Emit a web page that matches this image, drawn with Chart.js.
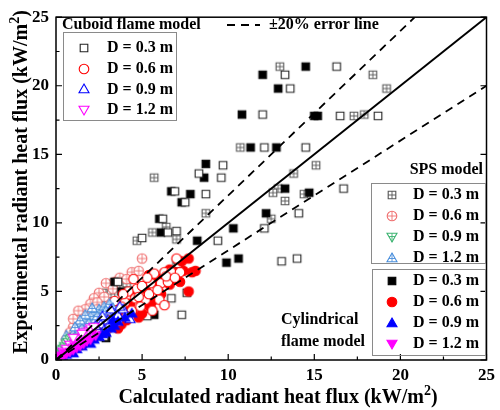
<!DOCTYPE html>
<html>
<head>
<meta charset="utf-8">
<script src="https://cdn.jsdelivr.net/npm/chart.js@4.4.0/dist/chart.umd.min.js"></script>
<style>
  html, body { margin: 0; padding: 0; background: #fff; }
  #wrap { width: 500px; height: 410px; }
</style>
</head>
<body>
<div id="wrap"><canvas id="fluxChart" width="500" height="410"></canvas></div>
<script>
// ===== Data (x = calculated, y = experimental, kW/m2) =====
const tickValues = [0, 5, 10, 15, 20, 25];
const errorFactors = [1, 1.2, 0.8];   // y = x and the ±20% lines

// Cuboid flame model (open markers)
const cuboid03 = [[16.3,21.4],[13.3,20.8],[13.6,19.8],[12.0,17.9],[16.5,17.8],[18.7,17.8],[12.1,15.5],[14.5,15.5],[9.7,14.2],[8.3,13.6],[9.6,13.3],[6.9,12.3],[8.7,12.1],[7.5,11.5],[6.2,10.3],[6.5,9.3],[7.0,9.4],[5.0,8.9],[9.4,8.7],[16.7,12.5],[14.1,10.7],[12.1,9.6],[13.1,7.2],[14.0,7.4],[7.1,7.0],[7.3,3.3],[5.3,3.2],[6.7,4.5],[7.6,4.9],[2.8,1.7],[3.6,5.7]];
const cuboid06 = [[7.0,7.4],[6.3,6.4],[6.7,6.4],[7.2,6.4],[5.7,6.3],[5.5,5.6],[6.1,5.6],[4.7,5.2],[4.2,5.0],[5.2,4.4],[4.6,4.5],[4.0,4.2],[3.8,3.9],[3.5,3.6],[3.2,3.3],[2.9,3.0],[2.6,2.7],[2.3,2.4],[2.0,2.1],[1.7,1.8],[1.4,1.5],[1.1,1.2],[2.7,3.4],[3.1,3.9],[4.4,3.6],[4.9,3.9],[5.4,4.8],[2.1,1.8],[1.5,1.1],[0.9,0.8],[4.5,5.9],[3.0,2.3],[2.5,1.9],[5.9,5.1],[6.5,5.7],[6.0,4.4],[3.9,4.8],[3.4,4.3],[1.9,2.6],[1.3,1.9],[0.7,0.9],[5.0,5.4],[5.3,6.0],[6.4,6.1],[6.9,6.0],[4.1,3.2],[3.6,2.8],[4.8,4.6],[3.3,2.6],[2.2,2.9],[1.6,2.2],[5.6,3.6],[6.3,4.0],[2.4,3.1],[1.8,1.5]];
const cuboid09 = [[3.3,3.1],[3.0,2.9],[2.6,2.6],[2.3,2.5],[2.0,2.2],[1.6,1.8],[1.3,1.4],[1.0,1.1],[0.7,0.8],[3.6,3.3],[3.9,3.7],[4.3,3.0],[2.8,2.2],[2.1,1.7],[1.5,1.2],[3.1,2.6],[3.2,3.7],[2.7,3.2],[3.7,3.9],[0.5,0.6]];
const cuboid12 = [[0.3,0.3],[0.5,0.5],[0.7,0.7],[0.9,1.0],[1.1,1.2],[1.3,1.4],[1.5,1.6],[1.7,1.8],[1.9,2.1],[0.4,0.6],[0.8,1.1],[1.2,1.5],[1.6,2.0],[2.0,2.3],[1.0,0.9],[0.6,0.8],[1.4,1.2],[2.2,2.4],[1.0,1.6],[1.5,1.9]];

// SPS model (crossed markers)
const sps03 = [[13.0,21.4],[18.4,20.8],[19.2,19.8],[17.3,17.8],[17.9,17.9],[10.7,15.5],[15.1,14.2],[13.8,13.6],[5.7,13.3],[8.7,10.7],[6.4,9.7],[5.6,9.3],[7.0,8.8],[4.7,8.7],[12.5,10.3],[12.9,12.5],[12.6,12.2],[13.3,11.6],[14.4,12.1],[2.9,4.9],[2.5,4.5],[3.5,5.5],[4.1,5.6],[7.0,7.1],[3.2,4.8]];
const sps06 = [[5.0,7.4],[4.4,6.4],[4.8,6.5],[3.4,5.7],[2.9,5.6],[3.3,5.2],[2.5,4.9],[2.8,4.6],[2.2,4.5],[2.0,4.1],[2.4,4.2],[1.7,3.7],[1.4,3.3],[2.1,3.4],[1.2,2.9],[1.0,2.4],[0.8,2.0],[1.6,2.8],[1.8,3.1],[3.7,6.0],[4.1,5.9],[2.4,3.7],[1.5,2.4],[0.6,1.5],[0.9,1.6],[1.0,3.0],[1.3,3.6],[0.7,1.0]];
const sps09 = [[0.2,0.4],[0.3,0.6],[0.4,0.8],[0.5,1.0],[0.6,1.2],[0.7,1.3],[0.3,0.7],[0.5,0.9],[0.8,1.5],[0.2,0.3],[0.9,1.6],[0.15,0.25],[0.4,0.5]];
const sps12 = [[2.5,3.7],[2.2,3.5],[2.0,3.2],[1.8,3.0],[1.6,2.8],[1.4,2.5],[1.2,2.2],[1.0,1.9],[0.8,1.6],[0.6,1.3],[0.5,1.0],[0.3,0.7],[2.8,3.9],[1.9,2.7],[1.5,2.3],[1.1,1.7],[0.9,1.4],[0.7,1.1],[2.3,3.0],[2.7,3.4],[1.3,2.0],[0.4,0.8],[3.1,4.1],[2.1,3.8],[1.7,3.3],[0.6,1.8],[2.9,3.6],[3.3,3.8],[2.4,3.2],[2.6,3.0],[1.4,2.9],[1.1,2.4]];

// Cylindrical flame model (filled markers)
const cyl03 = [[14.5,21.4],[12.0,20.8],[12.9,19.8],[10.8,17.9],[15.0,17.8],[15.2,17.8],[11.3,15.5],[12.8,15.5],[8.7,14.3],[8.6,13.3],[6.7,12.3],[7.8,12.1],[7.3,11.5],[6.0,10.3],[6.1,9.3],[8.2,8.7],[10.3,9.6],[12.2,10.7],[13.3,12.5],[14.7,12.2],[10.6,7.4],[9.9,7.1],[5.7,3.3],[2.9,1.6],[3.4,5.7],[3.8,5.0]];
const cyl06 = [[7.7,7.4],[7.9,6.4],[8.1,6.5],[6.6,5.5],[7.2,5.7],[5.4,6.2],[6.1,4.8],[5.6,4.3],[5.5,3.8],[5.0,3.4],[4.8,3.1],[7.7,5.0],[4.6,4.8],[4.4,3.5],[3.9,3.3],[3.5,2.9],[3.1,2.5],[2.7,2.1],[2.3,1.8],[1.9,1.5],[6.2,6.0],[5.9,5.7],[4.3,4.1],[3.8,2.6],[1.5,1.2],[6.6,6.6],[7.3,7.2],[5.2,5.2],[5.0,4.0],[4.0,3.7],[3.3,3.1],[6.9,6.4],[7.4,6.5],[5.4,4.6],[4.1,2.9],[3.6,2.3]];
const cyl09 = [[3.4,2.5],[3.2,2.3],[2.9,2.0],[2.5,1.7],[2.2,1.5],[1.8,1.3],[1.5,1.0],[1.2,0.8],[0.9,0.6],[0.6,0.4],[2.7,1.9],[2.0,1.2],[3.6,2.8],[4.0,3.1],[1.0,0.5],[0.4,0.2],[3.3,2.9],[4.4,3.4]];
const cyl12 = [[0.2,0.15],[0.4,0.3],[0.6,0.45],[0.8,0.6],[1.0,0.75],[1.2,0.9],[1.4,1.05],[1.6,1.2],[1.8,1.4],[2.0,1.5],[0.5,0.5],[1.1,1.0],[1.5,1.3],[0.3,0.25],[2.3,1.8]];

const diameters = ['D = 0.3 m', 'D = 0.6 m', 'D = 0.9 m', 'D = 1.2 m'];

// ===== Marker images =====
const serif = "'Liberation Serif', 'Times New Roman', serif";

function marker(shape, color, fill, cross, r) {
  const s = Math.ceil(r * 2 + 4);
  const c = document.createElement('canvas');
  c.width = c.height = s;
  const g = c.getContext('2d');
  const m = s / 2;
  g.lineWidth = 1.1;
  g.strokeStyle = color;
  g.fillStyle = fill;
  g.beginPath();
  if (shape === 'square') g.rect(m - r, m - r, 2 * r, 2 * r);
  else if (shape === 'circle') g.arc(m, m, r, 0, Math.PI * 2);
  else if (shape === 'up') { g.moveTo(m, m - r); g.lineTo(m + r, m + r * 0.75); g.lineTo(m - r, m + r * 0.75); g.closePath(); }
  else { g.moveTo(m, m + r); g.lineTo(m + r, m - r * 0.75); g.lineTo(m - r, m - r * 0.75); g.closePath(); }
  g.fill();
  g.stroke();
  if (cross) {
    g.beginPath();
    g.lineWidth = 0.9;
    if (shape === 'square' || shape === 'circle') {
      g.moveTo(m - r, m); g.lineTo(m + r, m);
      g.moveTo(m, m - r); g.lineTo(m, m + r);
    } else if (shape === 'up') {
      g.moveTo(m, m - r); g.lineTo(m, m + r * 0.75);
      g.moveTo(m - r * 0.6, m + r * 0.1); g.lineTo(m + r * 0.6, m + r * 0.1);
    } else {
      g.moveTo(m, m + r); g.lineTo(m, m - r * 0.75);
      g.moveTo(m - r * 0.6, m - r * 0.1); g.lineTo(m + r * 0.6, m - r * 0.1);
    }
    g.stroke();
  }
  return c;
}

const mk = {
  cub03: marker('square', '#222', '#fff', false, 3.8),
  cub06: marker('circle', '#ff0000', '#fff', false, 4.8),
  cub09: marker('up', '#0000ff', '#fff', false, 5),
  cub12: marker('down', '#ff00ff', '#fff', false, 5),
  sps03: marker('square', '#555', '#fff', true, 3.8),
  sps06: marker('circle', '#ef6f6f', '#fff', true, 4.8),
  sps09: marker('down', '#3cb371', '#fff', true, 5),
  sps12: marker('up', '#4a8fdc', '#fff', true, 5),
  cyl03: marker('square', '#000', '#000', false, 3.8),
  cyl06: marker('circle', '#ff0000', '#ff0000', false, 4.8),
  cyl09: marker('up', '#0000ff', '#0000ff', false, 5),
  cyl12: marker('down', '#ff00ff', '#ff00ff', false, 5)
};

const toXY = arr => arr.map(p => ({ x: p[0], y: p[1] }));

function pointSet(label, data, img, order) {
  return { label, data: toXY(data), pointStyle: img, pointRadius: 5, order, showLine: false };
}

function refLine(f, dashed) {
  const top = 25 / Math.max(f, 1);
  return {
    type: 'line', label: 'ref' + f,
    data: [{ x: 0, y: 0 }, { x: f >= 1 ? top : 25, y: f >= 1 ? 25 : 25 * f }],
    borderColor: '#000', borderWidth: dashed ? 1.8 : 2, borderDash: dashed ? [8, 6] : [],
    pointRadius: 0, fill: false, order: -1
  };
}

// ===== Axes, ticks, titles and legends =====
const framePlugin = {
  id: 'frame',
  afterDraw(chart) {
    const { ctx, chartArea: a, scales: { x, y } } = chart;
    ctx.save();
    ctx.strokeStyle = '#000';
    ctx.lineWidth = 1.5;
    ctx.strokeRect(a.left, a.top, a.right - a.left, a.bottom - a.top);

    // inside ticks
    ctx.lineWidth = 1.2;
    ctx.beginPath();
    for (let v = 0; v <= 25; v += 2.5) {
      const len = v % 5 === 0 ? 6 : 3.5;
      const px = x.getPixelForValue(v), py = y.getPixelForValue(v);
      ctx.moveTo(px, a.bottom); ctx.lineTo(px, a.bottom - len);
      ctx.moveTo(a.left, py); ctx.lineTo(a.left + len, py);
      if (v % 5 === 0) { ctx.moveTo(a.right, py); ctx.lineTo(a.right - len, py); }
    }
    ctx.stroke();

    // axis titles with superscript
    ctx.fillStyle = '#000';
    const titleWithSup = (text, cx, cy) => {
      ctx.font = 'bold 20px ' + serif;
      const w1 = ctx.measureText(text).width;
      ctx.font = 'bold 14px ' + serif;
      const w2 = ctx.measureText('2').width;
      ctx.font = 'bold 20px ' + serif;
      const w3 = ctx.measureText(')').width;
      let sx = cx - (w1 + w2 + w3) / 2;
      ctx.textAlign = 'left';
      ctx.textBaseline = 'alphabetic';
      ctx.fillText(text, sx, cy);
      ctx.font = 'bold 14px ' + serif;
      ctx.fillText('2', sx + w1, cy - 8);
      ctx.font = 'bold 20px ' + serif;
      ctx.fillText(')', sx + w1 + w2, cy);
    };
    titleWithSup('Calculated radiant heat flux (kW/m', 278, 403);
    ctx.save();
    ctx.translate(27, 182);
    ctx.rotate(-Math.PI / 2);
    titleWithSup('Experimental radiant heat flux (kW/m', 0, 0);
    ctx.restore();

    // legends
    ctx.font = 'bold 16px ' + serif;
    ctx.textBaseline = 'middle';
    ctx.textAlign = 'left';
    ctx.fillText('Cuboid flame model', 62, 25);
    ctx.fillText('\u00b120% error line', 269, 25);
    ctx.textAlign = 'right';
    ctx.fillText('SPS model', 483, 170);
    ctx.textAlign = 'left';
    ctx.fillText('Cylindrical', 281, 320);
    ctx.fillText('flame model', 281, 342);

    ctx.beginPath();
    ctx.setLineDash([8, 6]);
    ctx.lineWidth = 1.8;
    ctx.moveTo(227, 25); ctx.lineTo(260, 25);
    ctx.stroke();
    ctx.setLineDash([]);

    ctx.strokeStyle = '#8a8a8a';
    ctx.lineWidth = 1;
    ctx.strokeRect(63.5, 32.5, 113, 88);
    ctx.strokeRect(371.5, 183.5, 114, 80);
    ctx.strokeRect(372.5, 269.5, 113, 86);

    const box = (imgs, mx, tx, y0, step) => {
      imgs.forEach((img, i) => {
        const yy = y0 + i * step;
        ctx.drawImage(img, Math.round(mx - img.width / 2), Math.round(yy - img.height / 2));
        ctx.fillText(diameters[i], tx, yy);
      });
    };
    box([mk.cub03, mk.cub06, mk.cub09, mk.cub12], 84, 107, 48, 20.7);
    box([mk.sps03, mk.sps06, mk.sps09, mk.sps12], 392, 413, 194.5, 21);
    box([mk.cyl03, mk.cyl06, mk.cyl09, mk.cyl12], 392, 413, 281, 21);
    ctx.restore();
  }
};

// ===== Chart =====
const tickFont = { family: serif, size: 17, weight: 'bold' };

// lower "order" is drawn on top
new Chart(document.getElementById('fluxChart'), {
  type: 'scatter',
  data: {
    datasets: [
      refLine(errorFactors[0], false),
      refLine(errorFactors[1], true),
      refLine(errorFactors[2], true),
      pointSet('SPS D=0.3', sps03, mk.sps03, 12),
      pointSet('SPS D=0.6', sps06, mk.sps06, 11),
      pointSet('Cyl D=0.3', cyl03, mk.cyl03, 10),
      pointSet('Cuboid D=0.3', cuboid03, mk.cub03, 9),
      pointSet('Cyl D=0.6', cyl06, mk.cyl06, 8),
      pointSet('Cuboid D=0.6', cuboid06, mk.cub06, 7),
      pointSet('SPS D=1.2', sps12, mk.sps12, 6),
      pointSet('SPS D=0.9', sps09, mk.sps09, 5),
      pointSet('Cuboid D=0.9', cuboid09, mk.cub09, 4),
      pointSet('Cyl D=0.9', cyl09, mk.cyl09, 3),
      pointSet('Cuboid D=1.2', cuboid12, mk.cub12, 2),
      pointSet('Cyl D=1.2', cyl12, mk.cyl12, 1)
    ]
  },
  options: {
    responsive: false,
    animation: false,
    layout: { padding: { top: 11, right: 9, left: 0, bottom: 0 } },
    plugins: { legend: { display: false }, tooltip: { enabled: false } },
    scales: {
      x: {
        type: 'linear', min: 0, max: 25,
        afterBuildTicks: s => { s.ticks = tickValues.map(v => ({ value: v })); },
        ticks: { font: tickFont, color: '#000', padding: 5, maxRotation: 0 },
        grid: { display: false, drawTicks: false },
        border: { display: false },
        afterFit: s => { s.height = 50; }
      },
      y: {
        type: 'linear', min: 0, max: 25,
        afterBuildTicks: s => { s.ticks = tickValues.map(v => ({ value: v })); },
        ticks: { font: tickFont, color: '#000', padding: 7 },
        grid: { display: false, drawTicks: false },
        border: { display: false },
        afterFit: s => { s.width = 56; }
      }
    }
  },
  plugins: [framePlugin]
});
</script>
</body>
</html>
